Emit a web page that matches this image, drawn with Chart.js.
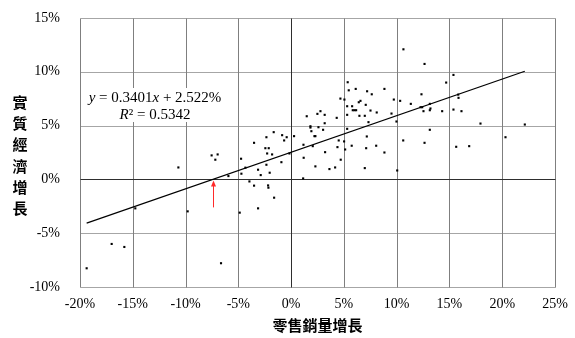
<!DOCTYPE html>
<html><head><meta charset="utf-8">
<script src="https://cdn.jsdelivr.net/npm/chart.js@4/dist/chart.umd.min.js"></script>
<style>html,body{margin:0;padding:0;background:#fff;overflow:hidden}#wrap{width:575px;height:338px;position:relative}</style>
</head><body><div id="wrap"><canvas id="c" width="575" height="338"></canvas></div>
<script>
// 零售銷量增長 (%)
const retailGrowth = [
 -19.37,-17.00,-15.80,-14.76,-10.68,-9.80,-7.53,-6.96,-7.18,-6.64,
 -5.94,-4.87,-4.74,-4.71,-4.33,-3.95,-3.51,-3.51,-3.13,-3.13,
 -2.88,-2.44,-2.34,-2.34,-2.27,-2.18,-2.15,-2.12,-2.03,-1.80,
 -1.65,-1.61,-0.92,-0.85,-0.66,-0.42,-0.16,0.28,1.14,1.17,
 1.19,1.83,1.83,1.92,2.05,2.21,2.30,2.30,2.59,3.03,
 3.18,3.22,1.48,2.49,2.78,3.18,5.36,6.12,5.46,7.20,
 8.84,7.64,4.67,5.05,9.73,10.33,6.57,6.41,5.31,5.78,
 7.07,5.84,6.00,6.16,7.52,8.11,5.31,6.47,6.98,9.51,
 4.32,7.33,9.98,5.31,4.51,5.02,7.17,10.62,4.39,5.74,
 5.12,7.11,8.06,8.84,4.70,4.17,3.63,6.98,10.05,10.64,
 12.64,15.38,14.69,12.35,15.83,15.86,11.34,13.14,12.26,12.42,
 13.20,13.14,12.54,14.31,15.38,16.14,17.94,13.14,12.64,15.64,
 16.87,22.14,20.31
];
// 實質經濟增長 (%)
const gdpGrowth = [
 -8.26,-6.00,-6.28,-2.69,1.11,-2.97,2.23,2.32,1.83,-7.79,
 0.31,-3.09,1.92,0.53,1.09,-0.19,-0.58,3.40,0.90,-2.69,
 0.40,2.90,3.92,1.36,2.41,-0.56,-0.77,2.90,0.62,2.32,
 4.39,-1.70,1.60,4.11,3.62,3.92,2.41,4.02,0.09,3.22,
 2.01,4.94,4.82,4.48,3.09,4.02,4.02,1.21,4.85,4.61,
 5.22,2.53,5.87,6.09,6.34,6.00,9.03,8.41,8.28,8.19,
 8.41,7.91,7.51,7.42,7.42,7.30,7.30,7.17,6.80,6.80,
 6.93,6.43,6.43,6.43,6.40,6.22,6.00,5.91,5.91,6.12,
 5.72,5.32,5.38,4.70,3.62,3.53,3.99,3.62,3.00,3.13,
 2.78,2.90,3.13,2.50,1.83,1.11,0.96,1.05,0.83,12.09,
 10.73,9.71,9.00,7.91,7.88,7.58,7.02,7.02,6.71,6.71,
 6.59,6.43,6.34,6.34,6.49,6.34,5.19,4.61,3.40,3.03,
 3.09,5.10,3.92
];
const xTickValues = [-20,-15,-10,-5,0,5,10,15,20,25];
const yTickValues = [-10,-5,0,5,10,15];
const xTitle = '零售銷量增長';
const yTitle = '實質經濟增長';
const slope = 0.3401;
const intercept = 2.522;
const rSquared = 0.5342;

const points = retailGrowth.map((x, i) => ({x: x, y: gdpGrowth[i]}));
const xMin = Math.min(...retailGrowth), xMax = Math.max(...retailGrowth);
const trend = [{x: xMin, y: slope * xMin + intercept}, {x: xMax, y: slope * xMax + intercept}];

const SERIF = '"Liberation Serif","Times New Roman",serif';
const CJK = '"Noto Sans CJK TC","Noto Sans CJK SC",sans-serif';

function drawRuns(ctx, runs, cx, cy, size) {
  let total = 0;
  runs.forEach(r => { ctx.font = (r.i ? 'italic ' : '') + size + 'px ' + SERIF; r.w = ctx.measureText(r.t).width; total += r.w; });
  let x = cx - total / 2;
  ctx.textAlign = 'left'; ctx.textBaseline = 'middle';
  runs.forEach(r => { ctx.font = (r.i ? 'italic ' : '') + size + 'px ' + SERIF; ctx.fillText(r.t, x, cy); x += r.w; });
}

const overlay = {
  id: 'overlay',
  beforeDatasetsDraw(chart) {
    const {ctx, chartArea: a, scales: {x, y}} = chart;
    ctx.save();
    ctx.lineWidth = 1;
    const line = (x1, y1, x2, y2, c) => { ctx.strokeStyle = c; ctx.beginPath(); ctx.moveTo(x1, y1); ctx.lineTo(x2, y2); ctx.stroke(); };
    const top = Math.round(a.top) + 0.5, bot = Math.round(a.bottom) + 0.5;
    const lft = Math.round(a.left) + 0.5, rgt = Math.round(a.right) + 0.5;
    yTickValues.forEach(v => { if (v !== 0) { const p = Math.round(y.getPixelForValue(v)) + 0.5; line(lft, p, rgt, p, '#a6a6a6'); } });
    xTickValues.forEach(v => { if (v !== 0) { const p = Math.round(x.getPixelForValue(v)) + 0.5; line(p, top, p, bot, '#7f7f7f'); } });
    const zx = Math.round(x.getPixelForValue(0)) + 0.5;
    const zy = Math.round(y.getPixelForValue(0)) + 0.5;
    line(zx, top, zx, bot, '#2e2e2e');
    line(lft, zy, rgt, zy, '#2e2e2e');
    ctx.restore();
  },
  afterDatasetsDraw(chart) {
    const {ctx, scales: {x, y}} = chart;
    ctx.save();
    const px = Math.round(x.getPixelForValue(-intercept / slope)) + 0.5;
    const py = y.getPixelForValue(0);
    ctx.strokeStyle = '#ff2a2a'; ctx.fillStyle = '#ff2a2a'; ctx.lineWidth = 1;
    ctx.beginPath(); ctx.moveTo(px, py + 28); ctx.lineTo(px, py + 6); ctx.stroke();
    ctx.beginPath(); ctx.moveTo(px, py + 1); ctx.lineTo(px - 2.5, py + 7); ctx.lineTo(px + 2.5, py + 7); ctx.closePath(); ctx.fill();
    ctx.fillStyle = '#fff';
    ctx.fillRect(86, 88, 139, 34);
    ctx.fillStyle = '#000';
    drawRuns(ctx, [{t: 'y', i: true}, {t: ' = ' + slope.toFixed(4)}, {t: 'x', i: true}, {t: ' + ' + intercept.toFixed(3) + '%'}], 155, 98, 15);
    drawRuns(ctx, [{t: 'R', i: true}, {t: '² = ' + rSquared.toFixed(4)}], 155, 115, 15);
    ctx.restore();
  },
  afterDraw(chart) {
    const ctx = chart.ctx;
    ctx.save();
    ctx.fillStyle = '#000';
    ctx.font = 'bold 15px ' + CJK;
    ctx.textAlign = 'center'; ctx.textBaseline = 'middle';
    [...yTitle].forEach((ch, i) => ctx.fillText(ch, 20, 102 + i * 21.3));
    ctx.restore();
  }
};

new Chart(document.getElementById('c'), {
  type: 'scatter',
  data: {
    datasets: [
      {data: points, pointStyle: 'rect', pointRadius: 1.5, pointBorderWidth: 0, backgroundColor: '#000', borderColor: '#000', order: 2},
      {data: trend, showLine: true, pointRadius: 0, borderColor: '#000', borderWidth: 1.2, order: 1}
    ]
  },
  options: {
    responsive: false, animation: false, devicePixelRatio: 1,
    layout: {padding: {left: 0, right: 20, top: 18, bottom: 0}},
    plugins: {legend: {display: false}, tooltip: {enabled: false}},
    scales: {
      x: {
        type: 'linear', min: -20, max: 25,
        afterBuildTicks: s => { s.ticks = xTickValues.map(v => ({value: v})); },
        afterFit: s => { s.height = 51; s.paddingLeft = 0; s.paddingRight = 0; },
        ticks: {callback: v => v + '%', font: {family: SERIF, size: 14}, color: '#000', padding: 9, maxRotation: 0, autoSkip: false},
        grid: {display: false, drawTicks: false},
        border: {display: false},
        title: {display: true, text: xTitle, font: {family: CJK, size: 15, weight: 'bold'}, color: '#000', padding: {top: 0, bottom: 4}}
      },
      y: {
        type: 'linear', min: -10, max: 15,
        afterBuildTicks: s => { s.ticks = yTickValues.map(v => ({value: v})); },
        afterFit: s => { s.width = 80; s.paddingTop = 0; s.paddingBottom = 0; },
        ticks: {callback: v => v + '%', font: {family: SERIF, size: 14}, color: '#000', padding: 20},
        grid: {display: false, drawTicks: false},
        border: {display: false}
      }
    }
  },
  plugins: [overlay]
});
</script></body></html>
